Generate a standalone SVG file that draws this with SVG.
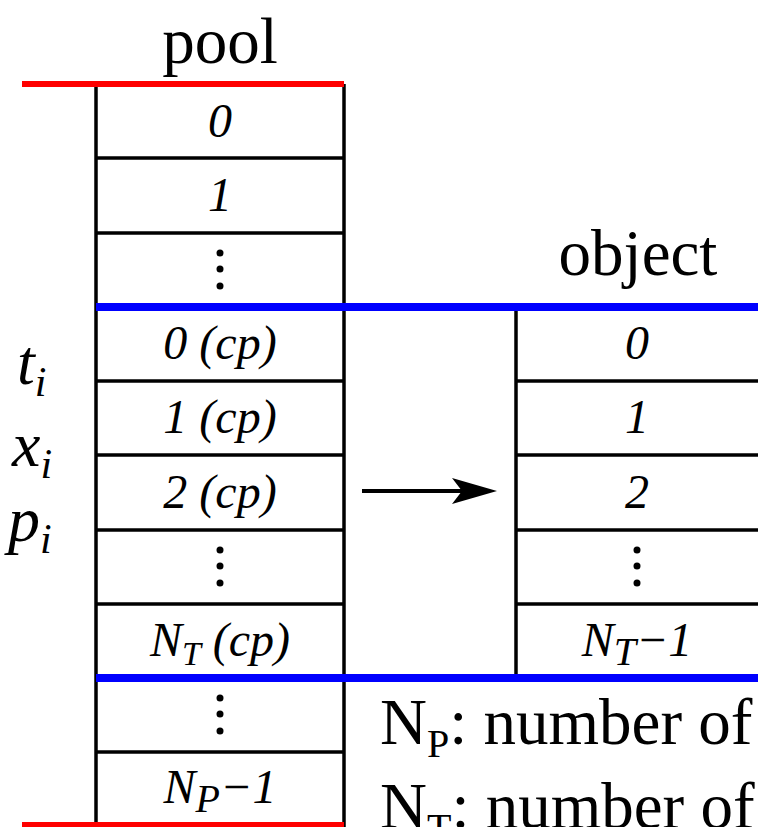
<svg xmlns="http://www.w3.org/2000/svg" width="758" height="827" viewBox="0 0 758 827">
<style>
.k{stroke:#000;stroke-width:3.5;fill:none}
.b{stroke:#0000ff;stroke-width:8;fill:none}
.r{stroke:#ff0000;stroke-width:6;fill:none}
text{font-family:"Liberation Serif","Times New Roman","DejaVu Serif",serif;fill:#000}
.c{font-style:italic;font-size:48px;text-anchor:middle}
.h{font-size:65px}
.v{font-style:italic;font-size:64px}
.d{fill:#000}
</style>
<rect width="758" height="827" fill="#fff"/>
<text class="h" x="220" y="63" text-anchor="middle">pool</text>
<text class="h" x="638" y="275" text-anchor="middle">object</text>
<g id="pool">
<line class="k" x1="96" y1="84" x2="96" y2="827"/>
<line class="k" x1="344" y1="84" x2="344" y2="827"/>
<line class="k" x1="96" y1="158" x2="344" y2="158"/>
<line class="k" x1="96" y1="233" x2="344" y2="233"/>
<line class="k" x1="96" y1="381" x2="344" y2="381"/>
<line class="k" x1="96" y1="455" x2="344" y2="455"/>
<line class="k" x1="96" y1="530" x2="344" y2="530"/>
<line class="k" x1="96" y1="604" x2="344" y2="604"/>
<line class="k" x1="96" y1="752" x2="344" y2="752"/>
<text class="c" x="220" y="137">0</text>
<text class="c" x="220" y="211">1</text>
<circle class="d" cx="220" cy="253" r="3.5"/><circle class="d" cx="220" cy="269" r="3.5"/><circle class="d" cx="220" cy="286" r="3.5"/>
<text class="c" x="220" y="359">0 (cp)</text>
<text class="c" x="220" y="433">1 (cp)</text>
<text class="c" x="220" y="508">2 (cp)</text>
<circle class="d" cx="220" cy="550" r="3.5"/><circle class="d" cx="220" cy="566" r="3.5"/><circle class="d" cx="220" cy="583" r="3.5"/>
<text class="c" x="220" y="656">N<tspan font-size="34" dy="9">T</tspan><tspan dy="-9"> (cp)</tspan></text>
<circle class="d" cx="220" cy="698" r="3.5"/><circle class="d" cx="220" cy="714" r="3.5"/><circle class="d" cx="220" cy="731" r="3.5"/>
<text class="c" x="220" y="803">N<tspan font-size="40" dy="9">P</tspan><tspan dy="-9">−1</tspan></text>
</g>
<g id="object">
<line class="k" x1="516" y1="307" x2="516" y2="678"/>
<line class="k" x1="516" y1="381" x2="758" y2="381"/>
<line class="k" x1="516" y1="455" x2="758" y2="455"/>
<line class="k" x1="516" y1="530" x2="758" y2="530"/>
<line class="k" x1="516" y1="604" x2="758" y2="604"/>
<text class="c" x="637" y="359">0</text>
<text class="c" x="637" y="433">1</text>
<text class="c" x="637" y="508">2</text>
<circle class="d" cx="637" cy="550" r="3.5"/><circle class="d" cx="637" cy="566" r="3.5"/><circle class="d" cx="637" cy="583" r="3.5"/>
<text class="c" x="637" y="656">N<tspan font-size="40" dy="9">T</tspan><tspan dy="-9">−1</tspan></text>
</g>
<g id="bounds">
<line class="r" x1="22" y1="84" x2="344" y2="84"/>
<line class="r" x1="22" y1="825" x2="344" y2="825"/>
<line class="b" x1="96" y1="307" x2="758" y2="307"/>
<line class="b" x1="96" y1="678" x2="758" y2="678"/>
</g>
<g id="labels">
<text class="v" x="17" y="384">t<tspan font-size="42" dy="12">i</tspan></text>
<text class="v" x="12" y="466">x<tspan font-size="42" dy="12">i</tspan></text>
<text class="v" x="8" y="541">p<tspan font-size="42" dy="12">i</tspan></text>
<text class="h" x="380" y="744">N<tspan font-size="40" dy="13">P</tspan><tspan dy="-13">: number of</tspan></text>
<text class="h" x="380" y="828">N<tspan font-size="40" dy="13">T</tspan><tspan dy="-13">: number of</tspan></text>
</g>
<g id="connectors">
<line x1="362" y1="491" x2="470" y2="491" stroke="#000" stroke-width="4"/>
<path d="M452,478 L497,491 L452,504 L462,491 Z" fill="#000"/>
</g>
</svg>
